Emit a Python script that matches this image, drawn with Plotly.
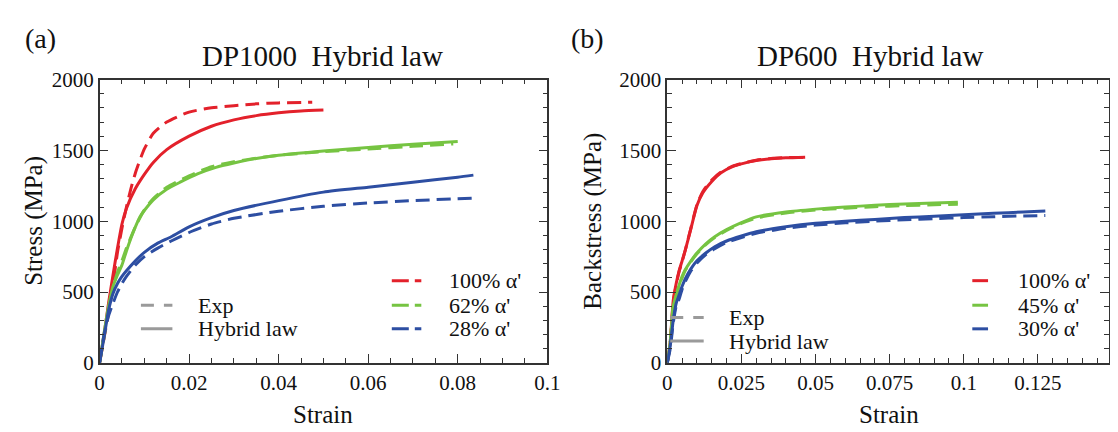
import plotly.graph_objects as go

# ---------------- Panel (a): DP1000 ----------------
a_red_exp_x = [0, 0.002, 0.003, 0.004, 0.005, 0.006, 0.007, 0.008, 0.009, 0.010, 0.012, 0.015, 0.020, 0.025, 0.030, 0.035, 0.040, 0.0475]
a_red_exp_y = [0, 350, 550, 780, 950, 1100, 1230, 1340, 1430, 1510, 1620, 1700, 1770, 1800, 1815, 1828, 1835, 1840]
a_red_fit_x = [0, 0.001, 0.002, 0.003, 0.004, 0.005, 0.006, 0.008, 0.010, 0.012, 0.015, 0.020, 0.025, 0.030, 0.035, 0.040, 0.045, 0.050]
a_red_fit_y = [0, 200, 420, 620, 810, 980, 1090, 1230, 1330, 1415, 1505, 1600, 1670, 1715, 1745, 1765, 1778, 1785]

a_grn_exp_x = [0, 0.001, 0.002, 0.003, 0.004, 0.005, 0.006, 0.008, 0.010, 0.012, 0.015, 0.020, 0.025, 0.030, 0.040, 0.050, 0.060, 0.070, 0.079]
a_grn_exp_y = [0, 180, 370, 530, 640, 720, 810, 960, 1080, 1160, 1240, 1320, 1385, 1420, 1465, 1490, 1510, 1528, 1545]
a_grn_fit_x = [0, 0.001, 0.002, 0.003, 0.004, 0.005, 0.006, 0.007, 0.008, 0.009, 0.010, 0.012, 0.015, 0.018, 0.022, 0.026, 0.030, 0.035, 0.040, 0.050, 0.060, 0.070, 0.080]
a_grn_fit_y = [0, 210, 400, 540, 620, 690, 790, 880, 960, 1030, 1075, 1150, 1225, 1275, 1335, 1380, 1410, 1442, 1465, 1495, 1520, 1543, 1563]

a_blu_exp_x = [0, 0.001, 0.002, 0.003, 0.004, 0.005, 0.006, 0.008, 0.010, 0.013, 0.016, 0.020, 0.025, 0.030, 0.040, 0.050, 0.060, 0.070, 0.0835]
a_blu_exp_y = [0, 200, 330, 420, 500, 560, 610, 690, 750, 810, 860, 920, 980, 1020, 1070, 1105, 1128, 1145, 1163]
a_blu_fit_x = [0, 0.001, 0.002, 0.003, 0.004, 0.005, 0.006, 0.008, 0.010, 0.013, 0.016, 0.020, 0.025, 0.030, 0.040, 0.050, 0.060, 0.070, 0.080, 0.0835]
a_blu_fit_y = [0, 180, 370, 490, 560, 610, 650, 720, 780, 845, 890, 960, 1025, 1075, 1145, 1205, 1240, 1275, 1310, 1325]

# ---------------- Panel (b): DP600 ----------------
b_red_exp_x = [0, 0.001, 0.002, 0.003, 0.004, 0.005, 0.006, 0.008, 0.010, 0.012, 0.015, 0.018, 0.022, 0.026, 0.030, 0.035, 0.040, 0.0465]
b_red_exp_y = [0, 140, 430, 550, 645, 715, 790, 955, 1115, 1210, 1290, 1345, 1388, 1412, 1430, 1442, 1448, 1450]
b_red_fit_x = [0, 0.001, 0.002, 0.003, 0.004, 0.005, 0.006, 0.008, 0.010, 0.012, 0.015, 0.018, 0.022, 0.026, 0.030, 0.035, 0.040, 0.0465]
b_red_fit_y = [0, 150, 440, 560, 650, 720, 790, 950, 1110, 1200, 1280, 1340, 1385, 1410, 1428, 1440, 1447, 1452]

b_grn_exp_x = [0, 0.001, 0.002, 0.003, 0.004, 0.005, 0.006, 0.008, 0.010, 0.013, 0.016, 0.020, 0.025, 0.030, 0.040, 0.050, 0.060, 0.070, 0.080, 0.090, 0.098]
b_grn_exp_y = [0, 140, 390, 470, 545, 600, 650, 715, 770, 835, 885, 935, 985, 1022, 1058, 1078, 1092, 1102, 1110, 1116, 1120]
b_grn_fit_x = [0, 0.001, 0.002, 0.003, 0.004, 0.005, 0.006, 0.008, 0.010, 0.013, 0.016, 0.020, 0.025, 0.030, 0.040, 0.050, 0.060, 0.070, 0.080, 0.090, 0.098]
b_grn_fit_y = [0, 150, 400, 480, 550, 610, 655, 720, 775, 840, 890, 940, 990, 1030, 1065, 1085, 1100, 1112, 1122, 1128, 1133]

b_blu_exp_x = [0, 0.001, 0.002, 0.003, 0.004, 0.005, 0.006, 0.008, 0.010, 0.013, 0.016, 0.020, 0.025, 0.030, 0.040, 0.050, 0.060, 0.070, 0.080, 0.090, 0.100, 0.110, 0.120, 0.1275]
b_blu_exp_y = [0, 100, 280, 400, 450, 520, 570, 650, 705, 765, 805, 850, 885, 915, 950, 972, 988, 1000, 1010, 1018, 1025, 1031, 1037, 1040]
b_blu_fit_x = [0, 0.001, 0.002, 0.003, 0.0035, 0.005, 0.006, 0.008, 0.010, 0.013, 0.016, 0.020, 0.025, 0.030, 0.040, 0.050, 0.060, 0.070, 0.080, 0.090, 0.100, 0.110, 0.120, 0.1275]
b_blu_fit_y = [0, 120, 300, 420, 450, 540, 590, 665, 720, 775, 820, 860, 895, 925, 960, 985, 1000, 1012, 1025, 1035, 1045, 1055, 1065, 1072]

# legend / text
a_labels = ["100% α'", "62% α'", "28% α'"]
b_labels = ["100% α'", "45% α'", "30% α'"]
style_labels = ["Exp", "Hybrid law"]

RED, GRN, BLU, GREY = "#e3212b", "#76c442", "#2d4ea2", "#9a9a9a"
FONT = "Liberation Serif, Times New Roman, Times, DejaVu Serif, serif"
W, H = 1118, 432

def px(xp):
    return xp / W

def py(yp):
    return 1 - yp / H

fig = go.Figure()

def add(x, y, color, dash, xa, ya):
    fig.add_trace(go.Scatter(
        x=x, y=y, mode="lines", xaxis=xa, yaxis=ya, showlegend=False,
        line=dict(color=color, width=3, dash="14px,7px" if dash else "solid", shape="spline", smoothing=0.6)))

for ex, ey, fx, fy, c in [
    (a_red_exp_x, a_red_exp_y, a_red_fit_x, a_red_fit_y, RED),
    (a_grn_exp_x, a_grn_exp_y, a_grn_fit_x, a_grn_fit_y, GRN),
    (a_blu_exp_x, a_blu_exp_y, a_blu_fit_x, a_blu_fit_y, BLU)]:
    add(fx, fy, c, False, "x", "y")
    add(ex, ey, c, True, "x", "y")

for ex, ey, fx, fy, c in [
    (b_red_exp_x, b_red_exp_y, b_red_fit_x, b_red_fit_y, RED),
    (b_grn_exp_x, b_grn_exp_y, b_grn_fit_x, b_grn_fit_y, GRN),
    (b_blu_exp_x, b_blu_exp_y, b_blu_fit_x, b_blu_fit_y, BLU)]:
    add(fx, fy, c, False, "x2", "y2")
    add(ex, ey, c, True, "x2", "y2")

axis_common = dict(
    showline=True, linecolor="#333333", linewidth=1.5, mirror="allticks",
    ticks="inside", ticklen=9, tickwidth=1.3, tickcolor="#333333",
    showgrid=False, zeroline=False,
    tickfont=dict(family=FONT, size=21, color="#111111"),
)
minor_x = dict(dtick=0.005, ticks="inside", ticklen=5, tickcolor="#333333", tickwidth=1.2)
minor_y = dict(dtick=100, ticks="inside", ticklen=5, tickcolor="#333333", tickwidth=1.2)

ytop, ybot = 63, 363
fig.update_layout(
    width=W, height=H, margin=dict(l=0, r=0, t=0, b=0),
    paper_bgcolor="white", plot_bgcolor="white",
    xaxis=dict(domain=[px(88), px(543)], range=[0, 0.1], anchor="y",
               tickvals=[0, 0.02, 0.04, 0.06, 0.08, 0.1], ticktext=["0", "0.02", "0.04", "0.06", "0.08", "0.1"],
               minor=minor_x, **axis_common),
    yaxis=dict(domain=[py(ybot), py(ytop)], range=[0, 2000], dtick=500, anchor="x",
               minor=minor_y, **axis_common),
    xaxis2=dict(domain=[px(665), px(1114)], range=[0, 0.149], anchor="y2",
                tickvals=[0, 0.025, 0.05, 0.075, 0.1, 0.125], ticktext=["0", "0.025", "0.05", "0.075", "0.1", "0.125"],
                minor=minor_x, **axis_common),
    yaxis2=dict(domain=[py(ybot), py(ytop)], range=[0, 2000], dtick=500, anchor="x2",
                minor=minor_y, **axis_common),
)

ann = []
shapes = []

def text(x, y, s, size, xanchor="left", angle=0):
    ann.append(dict(x=px(x), y=py(y), xref="paper", yref="paper", text=s, showarrow=False,
                    xanchor=xanchor, yanchor="middle", textangle=angle,
                    font=dict(family=FONT, size=size, color="#111111")))

def seg(x0, x1, y, color, dash="solid", width=3):
    shapes.append(dict(type="line", xref="paper", yref="paper", x0=px(x0), x1=px(x1), y0=py(y), y1=py(y),
                       line=dict(color=color, width=width, dash=dash)))

# panel labels and titles
text(10, 20, "(a)", 28)
text(565, 20, "(b)", 28)
text(315, 38, "DP1000  Hybrid law", 29, "center")
text(871, 38, "DP600  Hybrid law", 29, "center")
# axis titles
text(315, 418, "Strain", 25, "center")
text(890, 418, "Strain", 25, "center")
text(22, 213, "Stress (MPa)", 25, "center", -90)
text(590, 213, "Backstress (MPa)", 25, "center", -90)

# panel a legends
seg(130, 162, 302, GREY, "13px,10px")
seg(130, 162, 327, GREY)
text(186, 302, style_labels[0], 22)
text(186, 327, style_labels[1], 22)
for yy, c, lab in zip([276, 302, 327], [RED, GRN, BLU], a_labels):
    seg(385, 415, yy, c, "17px,6px")
    text(441, yy, lab, 22)

# panel b legends
seg(668, 702, 315, GREY, "13px,10px")
seg(668, 702, 340, GREY)
text(726, 315, style_labels[0], 22)
text(726, 340, style_labels[1], 22)
for yy, c, lab in zip([276, 302, 327], [RED, GRN, BLU], b_labels):
    seg(975, 991, yy, c)
    text(1019, yy, lab, 22)

fig.update_layout(annotations=ann, shapes=shapes)
fig.write_html("out.html")
